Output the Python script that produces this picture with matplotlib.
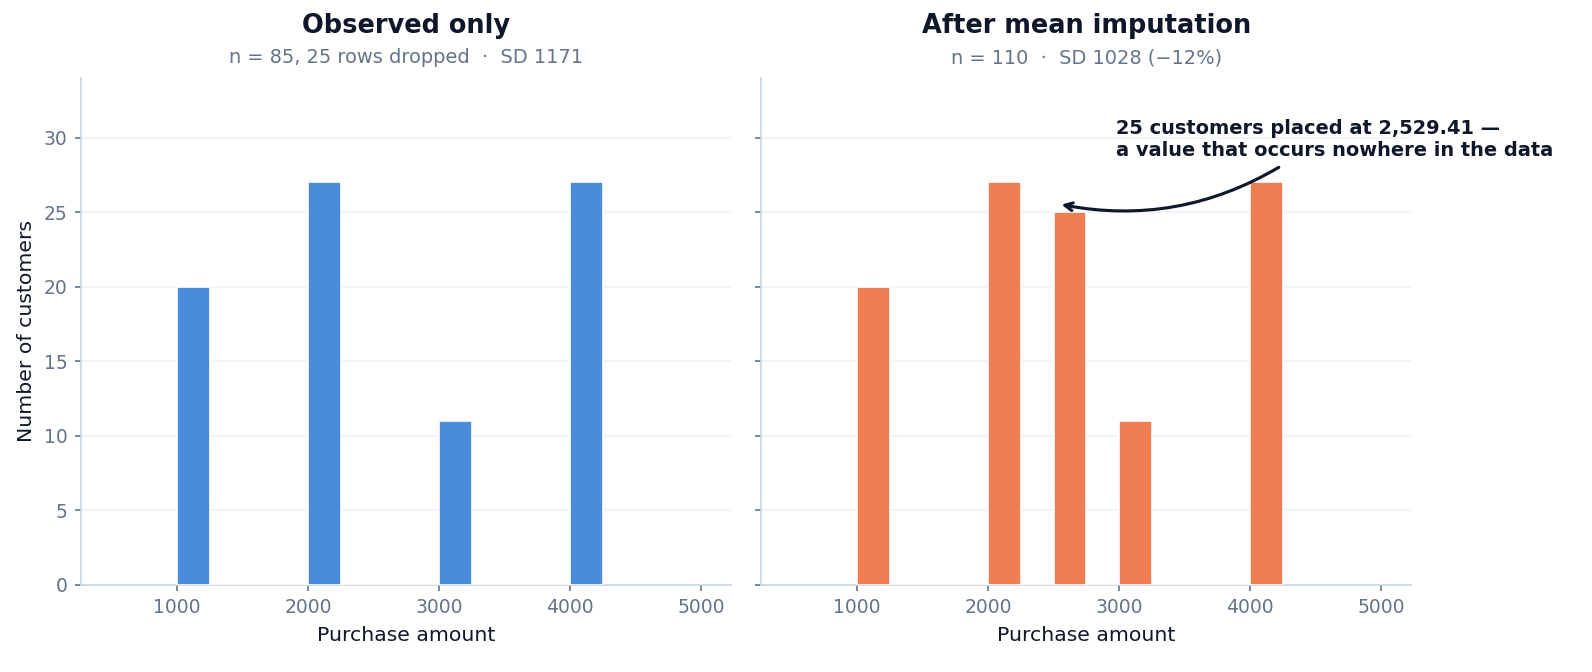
import numpy as np
import matplotlib.pyplot as plt

# observed purchase amounts and how many customers have each
amounts = [1000, 2000, 3000, 4000]
counts = [20, 27, 11, 27]
n_missing = 25
imputed_value = 2529.41

bins = np.arange(1000, 4251, 250)
blue = "#4a8bdb"
orange = "#ef7f52"
ink = "#0f172a"
grey = "#64748b"
spine = "#cbd5e1"

fig, axes = plt.subplots(1, 2, figsize=(10.62, 4.48), dpi=150, sharey=True)
fig.subplots_adjust(left=0.051, right=0.886, top=0.884, bottom=0.13, wspace=0.046)

obs_vals = amounts
obs_w = counts
imp_vals = amounts + [imputed_value]
imp_w = counts + [n_missing]

panels = [
    (axes[0], obs_vals, obs_w, blue, "Observed only",
     "n = 85, 25 rows dropped  \u00b7  SD 1171"),
    (axes[1], imp_vals, imp_w, orange, "After mean imputation",
     "n = 110  \u00b7  SD 1028 (\u221212%)"),
]

for ax, vals, w, color, title, sub in panels:
    ax.hist(vals, bins=bins, weights=w, color=color, edgecolor="white",
            linewidth=0.8, zorder=3)
    ax.set_xlim(270, 5230)
    ax.set_ylim(0, 34)
    ax.set_xticks([1000, 2000, 3000, 4000, 5000])
    ax.set_yticks([0, 5, 10, 15, 20, 25, 30])
    ax.grid(axis="y", color="#f1f5f9", linewidth=1, zorder=0)
    for s in ["top", "right"]:
        ax.spines[s].set_visible(False)
    for s in ["left", "bottom"]:
        ax.spines[s].set_color(spine)
    ax.tick_params(colors=grey, labelsize=9, length=3)
    ax.tick_params(axis="both", color="#64748b")
    ax.set_xlabel("Purchase amount", fontsize=9.8, color=ink)
    ax.text(0.5, 1.103, title, transform=ax.transAxes, ha="center", va="center",
            fontsize=12.3, fontweight="bold", color=ink)
    ax.text(0.5, 1.04, sub, transform=ax.transAxes, ha="center", va="center",
            fontsize=9.3, color=grey)

axes[0].set_ylabel("Number of customers", fontsize=9.8, color=ink)
axes[1].tick_params(axis="y", labelleft=False)

axes[1].annotate(
    "25 customers placed at 2,529.41 \u2014\na value that occurs nowhere in the data",
    xy=(2560, 25.5), xytext=(2975, 28.5),
    ha="left", va="bottom", fontsize=9.3, fontweight="bold", color=ink,
    annotation_clip=False,
    arrowprops=dict(arrowstyle="->", color=ink, lw=1.5,
                    connectionstyle="arc3,rad=-0.2", relpos=(0.4, 0.0),
                    shrinkA=3, shrinkB=0),
)

fig.savefig("out.png", dpi=150)
